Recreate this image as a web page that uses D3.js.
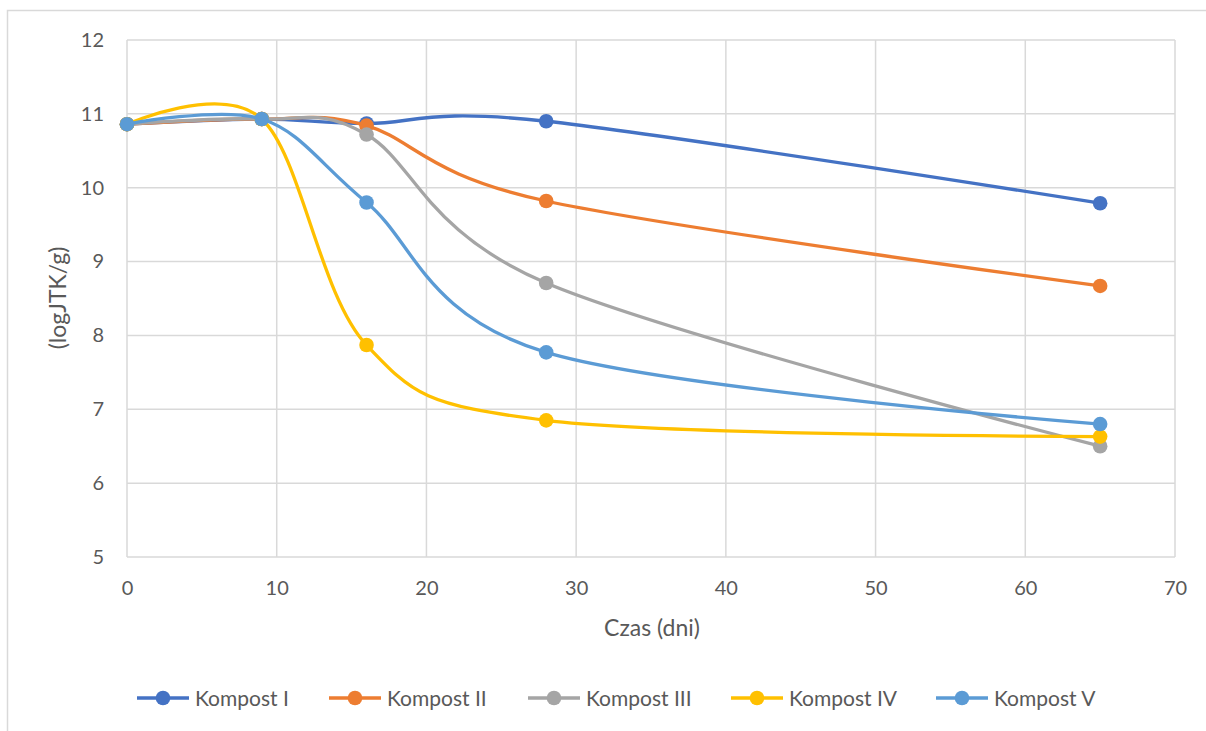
<!DOCTYPE html>
<html>
<head>
<meta charset="utf-8">
<script src="https://cdn.jsdelivr.net/npm/d3@7"></script>
<style>
  html, body { margin: 0; padding: 0; background: #fff; }
  svg { display: block; }
  text { font-family: Lato, "Liberation Sans", sans-serif; fill: #595959; }
</style>
</head>
<body>
<svg id="chart" width="1206" height="731"></svg>
<script>
const days = [0, 9, 16, 28, 65];
const seriesNames = ["Kompost I", "Kompost II", "Kompost III", "Kompost IV", "Kompost V"];
const kompostI   = [10.86, 10.93, 10.87, 10.90, 9.79];
const kompostII  = [10.86, 10.93, 10.84, 9.82, 8.67];
const kompostIII = [10.86, 10.93, 10.72, 8.71, 6.50];
const kompostIV  = [10.86, 10.93, 7.87, 6.85, 6.63];
const kompostV   = [10.86, 10.93, 9.80, 7.77, 6.80];
const colors = ["#4472C4", "#ED7D31", "#A5A5A5", "#FFC000", "#5B9BD5"];
const xTicks = [0, 10, 20, 30, 40, 50, 60, 70];
const yTicks = [5, 6, 7, 8, 9, 10, 11, 12];
const xLabel = "Czas (dni)";
const yLabel = "(logJTK/g)";

const allSeries = [kompostI, kompostII, kompostIII, kompostIV, kompostV];

const svg = d3.select("#chart");
const W = 1206, H = 731;
const plot = { left: 127, top: 40, right: 1175, bottom: 557 };
const FONT = "Lato, 'Liberation Sans', sans-serif";

// outer chart border
svg.append("rect")
  .attr("x", 7.5).attr("y", 10.5)
  .attr("width", W + 10).attr("height", H + 10)
  .attr("fill", "#fff").attr("stroke", "#d9d9d9").attr("stroke-width", 1.5);

const x = d3.scaleLinear().domain([0, 70]).range([plot.left, plot.right]);
const y = d3.scaleLinear().domain([5, 12]).range([plot.bottom, plot.top]);

// gridlines
const grid = svg.append("g");
grid.selectAll("line.v").data(xTicks).join("line")
  .attr("x1", d => x(d)).attr("x2", d => x(d))
  .attr("y1", plot.top).attr("y2", plot.bottom)
  .attr("stroke", "#d9d9d9").attr("stroke-width", 1.5);
grid.selectAll("line.h").data(yTicks).join("line")
  .attr("y1", d => y(d)).attr("y2", d => y(d))
  .attr("x1", plot.left).attr("x2", plot.right)
  .attr("stroke", "#d9d9d9").attr("stroke-width", 1.5);

// axes (labels only)
const xAxis = svg.append("g")
  .attr("transform", `translate(0,${plot.bottom})`)
  .call(d3.axisBottom(x).tickValues(xTicks).tickFormat(d3.format("d")).tickSize(0).tickPadding(24));
xAxis.select(".domain").remove();
xAxis.selectAll("text").style("font-size", "20px").attr("fill", "#595959")
  .style("font-family", FONT);

const yAxis = svg.append("g")
  .attr("transform", `translate(${plot.left},0)`)
  .call(d3.axisLeft(y).tickValues(yTicks).tickFormat(d3.format("d")).tickSize(0).tickPadding(23));
yAxis.select(".domain").remove();
yAxis.selectAll("text").style("font-size", "20px").attr("fill", "#595959")
  .style("font-family", FONT);

// axis titles
svg.append("text")
  .attr("x", 652).attr("y", 636)
  .attr("text-anchor", "middle").style("font-size", "23px")
  .text(xLabel);
svg.append("text")
  .attr("transform", `translate(66,298) rotate(-90)`)
  .attr("text-anchor", "middle").style("font-size", "23px")
  .text(yLabel);

// lines
const line = d3.line()
  .x(d => x(d[0])).y(d => y(d[1]))
  .curve(d3.curveCardinal.tension(0));

const g = svg.append("g");
allSeries.forEach((vals, i) => {
  const pts = days.map((d, j) => [d, vals[j]]);
  g.append("path").datum(pts)
    .attr("d", line).attr("fill", "none")
    .attr("stroke", colors[i]).attr("stroke-width", 3.3)
    .attr("stroke-linecap", "round");
  g.selectAll(null).data(pts).join("circle")
    .attr("cx", d => x(d[0])).attr("cy", d => y(d[1]))
    .attr("r", 7.3).attr("fill", colors[i]);
});

// legend
const legendX = [137, 329, 528, 731, 936];
const ly = 698;
const leg = svg.append("g");
seriesNames.forEach((name, i) => {
  const lx = legendX[i];
  leg.append("line").attr("x1", lx).attr("x2", lx + 52)
    .attr("y1", ly).attr("y2", ly)
    .attr("stroke", colors[i]).attr("stroke-width", 3.3);
  leg.append("circle").attr("cx", lx + 26).attr("cy", ly).attr("r", 7.3)
    .attr("fill", colors[i]);
  leg.append("text").attr("x", lx + 58).attr("y", ly + 7.5)
    .style("font-size", "21px").text(name);
});
</script>
</body>
</html>
